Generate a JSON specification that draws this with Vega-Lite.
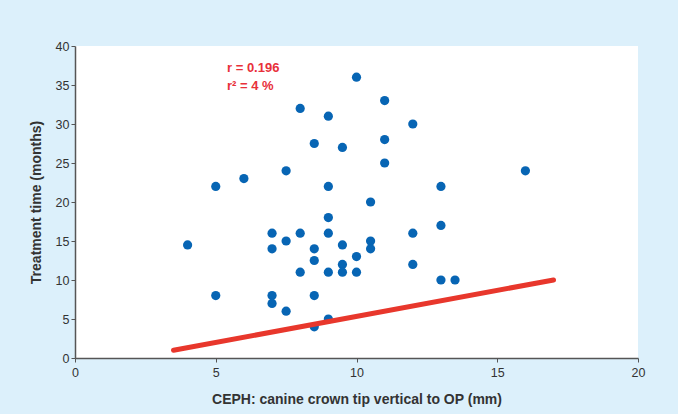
{
  "$schema": "https://vega.github.io/schema/vega-lite/v6.json",
  "width": 563,
  "height": 312,
  "autosize": {"type": "none"},
  "padding": {"left": 75, "top": 46, "right": 40, "bottom": 56},
  "background": "#dcf0fb",
  "config": {
    "view": {"fill": "white", "stroke": null},
    "font": "Liberation Sans",
    "axis": {
      "grid": false,
      "domainColor": "#555555",
      "domainWidth": 1.5,
      "tickColor": "#555555",
      "tickSize": 4,
      "labelFont": "Liberation Sans",
      "labelFontSize": 12.5,
      "labelColor": "#333333",
      "labelOverlap": false,
      "labelFlush": false,
      "titleFont": "Liberation Sans",
      "titleFontSize": 14,
      "titleFontWeight": "bold",
      "titleColor": "#333333"
    }
  },
  "datasets": {
    "pts": [
      {"x": 10, "y": 36}, {"x": 11, "y": 33}, {"x": 8, "y": 32}, {"x": 9, "y": 31},
      {"x": 12, "y": 30}, {"x": 8.5, "y": 27.5}, {"x": 9.5, "y": 27}, {"x": 11, "y": 28},
      {"x": 11, "y": 25}, {"x": 7.5, "y": 24}, {"x": 6, "y": 23}, {"x": 5, "y": 22},
      {"x": 9, "y": 22}, {"x": 13, "y": 22}, {"x": 16, "y": 24}, {"x": 10.5, "y": 20},
      {"x": 9, "y": 18}, {"x": 7, "y": 16}, {"x": 7.5, "y": 15}, {"x": 8, "y": 16},
      {"x": 9, "y": 16}, {"x": 7, "y": 14}, {"x": 8.5, "y": 14}, {"x": 9.5, "y": 14.5},
      {"x": 10.5, "y": 15}, {"x": 10.5, "y": 14}, {"x": 12, "y": 16}, {"x": 13, "y": 17},
      {"x": 4, "y": 14.5}, {"x": 8.5, "y": 12.5}, {"x": 10, "y": 13}, {"x": 9.5, "y": 12},
      {"x": 8, "y": 11}, {"x": 9, "y": 11}, {"x": 9.5, "y": 11}, {"x": 10, "y": 11},
      {"x": 12, "y": 12}, {"x": 13, "y": 10}, {"x": 13.5, "y": 10}, {"x": 5, "y": 8},
      {"x": 7, "y": 8}, {"x": 7, "y": 7}, {"x": 7.5, "y": 6}, {"x": 8.5, "y": 8},
      {"x": 9, "y": 5}, {"x": 8.5, "y": 4}
    ],
    "fit": [{"x": 3.5, "y": 1}, {"x": 17, "y": 10}],
    "notes": [
      {"x": 5.4, "y": 37.2, "label": "r = 0.196"},
      {"x": 5.4, "y": 34.9, "label": "r² = 4 %"}
    ]
  },
  "encoding": {
    "x": {"field": "x", "type": "quantitative", "scale": {"domain": [0, 20], "nice": false},
      "axis": {"tickCount": 4, "title": "CEPH: canine crown tip vertical to OP (mm)", "titlePadding": 14, "labelPadding": 4}},
    "y": {"field": "y", "type": "quantitative", "scale": {"domain": [0, 40], "nice": false},
      "axis": {"tickCount": 8, "title": "Treatment time (months)", "titlePadding": 12, "labelPadding": 2}}
  },
  "layer": [
    {
      "data": {"name": "pts"},
      "mark": {"type": "point", "filled": true, "opacity": 1, "size": 85, "color": "#0765b4"}
    },
    {
      "data": {"name": "fit"},
      "mark": {"type": "line", "color": "#e8372c", "strokeWidth": 5, "strokeCap": "round"}
    },
    {
      "data": {"name": "notes"},
      "mark": {"type": "text", "align": "left", "baseline": "middle", "fontSize": 13, "fontWeight": "bold", "color": "#e8303a"},
      "encoding": {
        "text": {"field": "label"}
      }
    }
  ]
}
